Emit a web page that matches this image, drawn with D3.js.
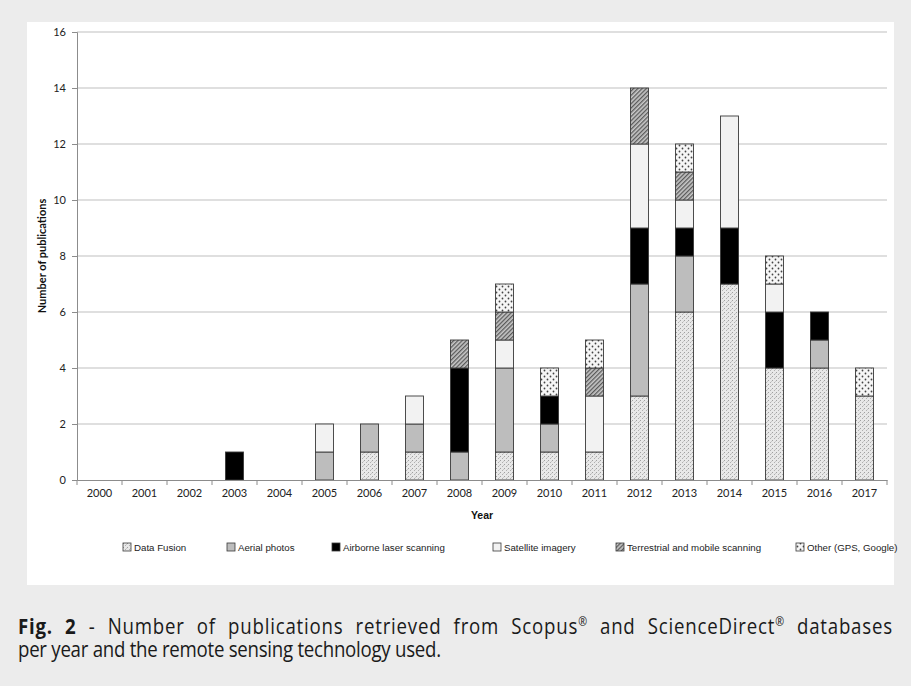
<!DOCTYPE html>
<html><head><meta charset="utf-8">
<script src="https://cdn.jsdelivr.net/npm/d3@7"></script>
<style>
html,body{margin:0;padding:0;background:#ececec;}
svg{display:block;}
</style></head>
<body>
<svg id="c" width="911" height="686"></svg>
<script>
const years = ["2000","2001","2002","2003","2004","2005","2006","2007","2008","2009","2010","2011","2012","2013","2014","2015","2016","2017"];
const seriesNames = ["Data Fusion","Aerial photos","Airborne laser scanning","Satellite imagery","Terrestrial and mobile scanning","Other (GPS, Google)"];
const dataFusion  = [0,0,0,0,0,0,1,1,0,1,1,1,3,6,7,4,4,3];
const aerial      = [0,0,0,0,0,1,1,1,1,3,1,0,4,2,0,0,1,0];
const airborne    = [0,0,0,1,0,0,0,0,3,0,1,0,2,1,2,2,1,0];
const satellite   = [0,0,0,0,0,1,0,1,0,1,0,2,3,1,4,1,0,0];
const terrestrial = [0,0,0,0,0,0,0,0,1,1,0,1,2,1,0,0,0,0];
const other       = [0,0,0,0,0,0,0,0,0,1,1,1,0,1,0,1,0,1];
const yTicks = [0,2,4,6,8,10,12,14,16];
const caption1Bold = "Fig. 2";
const caption1 = " - Number of publications retrieved from Scopus";
const caption1b = " and ScienceDirect";
const caption1c = " databases";
const caption2 = "per year and the remote sensing technology used.";

const seriesVals = [dataFusion, aerial, airborne, satellite, terrestrial, other];
const table = years.map((y,i)=>{ const o={year:y}; seriesNames.forEach((s,k)=>o[s]=seriesVals[k][i]); return o; });

const svg = d3.select("#c");
const defs = svg.append("defs");
// Data Fusion: fine speckle
const p1 = defs.append("pattern").attr("id","pDF").attr("patternUnits","userSpaceOnUse").attr("width",4).attr("height",4);
p1.append("rect").attr("width",4).attr("height",4).attr("fill","#e8e8e8");
p1.append("rect").attr("x",0).attr("y",0).attr("width",1).attr("height",1).attr("fill","#a0a0a0");
p1.append("rect").attr("x",2).attr("y",2).attr("width",1).attr("height",1).attr("fill","#b0b0b0");
p1.append("rect").attr("x",3).attr("y",1).attr("width",1).attr("height",1).attr("fill","#c8c8c8");
// Terrestrial: diagonal hatch
const p2 = defs.append("pattern").attr("id","pTR").attr("patternUnits","userSpaceOnUse").attr("width",3).attr("height",3).attr("patternTransform","rotate(45)");
p2.append("rect").attr("width",3).attr("height",3).attr("fill","#c8c8c8");
p2.append("rect").attr("width",1.3).attr("height",3).attr("fill","#5a5a5a");
// Other: bigger dots
const p3 = defs.append("pattern").attr("id","pOT").attr("patternUnits","userSpaceOnUse").attr("width",6).attr("height",6);
p3.append("rect").attr("width",6).attr("height",6).attr("fill","#f6f6f6");
p3.append("circle").attr("cx",1.5).attr("cy",1.5).attr("r",0.9).attr("fill","#444");
p3.append("circle").attr("cx",4.5).attr("cy",4.5).attr("r",0.9).attr("fill","#444");

const fills = ["url(#pDF)","#bdbdbd","#000000","#f2f2f2","url(#pTR)","url(#pOT)"];

// white panel
svg.append("rect").attr("x",27).attr("y",22).attr("width",867).attr("height",563).attr("fill","#ffffff");

const m = {l:77, r:887, t:32, b:480};
const x = d3.scaleBand().domain(years).range([m.l,m.r]).paddingInner(0.6).paddingOuter(0.3);
const y = d3.scaleLinear().domain([0,16]).range([m.b,m.t]);

// gridlines
svg.append("g").selectAll("line").data(yTicks.filter(d=>d>0)).join("line")
  .attr("x1",m.l).attr("x2",m.r).attr("y1",d=>y(d)).attr("y2",d=>y(d))
  .attr("stroke","#c0c0c0").attr("stroke-width",1.2);

// y axis
const yAxis = d3.axisLeft(y).tickValues(yTicks).tickSize(5).tickPadding(6);
const gy = svg.append("g").attr("transform",`translate(${m.l},0)`).call(yAxis);
gy.select(".domain").attr("stroke","#8c8c8c");
gy.selectAll(".tick line").attr("stroke","#8c8c8c");
gy.selectAll("text").attr("font-family","Lato, 'Open Sans', sans-serif").attr("font-size",11).attr("fill","#222");

// bars
const stack = d3.stack().keys(seriesNames)(table);
svg.append("g").selectAll("g").data(stack).join("g")
  .attr("fill",(d,i)=>fills[i])
  .selectAll("rect").data(d=>d.filter(e=>e[1]-e[0]>0)).join("rect")
  .attr("x",d=>x(d.data.year)).attr("width",x.bandwidth())
  .attr("y",d=>y(d[1])).attr("height",d=>y(d[0])-y(d[1]))
  .attr("stroke","#3a3a3a").attr("stroke-width",0.9);

// x axis
const xAxis = d3.axisBottom(x).tickSize(0).tickPadding(9);
const gx = svg.append("g").attr("transform",`translate(0,${m.b})`).call(xAxis);
gx.select(".domain").attr("stroke","#8c8c8c");
gx.selectAll("text").attr("font-family","Lato, 'Open Sans', sans-serif").attr("font-size",11).attr("fill","#222");
// category boundary ticks
const step = x.step();
svg.append("g").selectAll("line").data(d3.range(years.length+1)).join("line")
  .attr("x1",i=>m.l+i*step).attr("x2",i=>m.l+i*step).attr("y1",m.b).attr("y2",m.b+5)
  .attr("stroke","#8c8c8c");

// axis titles
svg.append("text").attr("x",(m.l+m.r)/2).attr("y",519).attr("text-anchor","middle")
  .attr("font-family","'Liberation Sans', Arial, sans-serif").attr("font-weight","bold").attr("font-size",10.5).attr("fill","#111").text("Year");
svg.append("text").attr("transform",`translate(46,${(m.t+m.b)/2}) rotate(-90)`).attr("text-anchor","middle")
  .attr("font-family","Lato, 'Open Sans', sans-serif").attr("font-weight","bold").attr("font-size",11).attr("fill","#111").text("Number of publications");

// legend
const legX = [123,227,332,493,616,796];
const lg = svg.append("g").selectAll("g").data(seriesNames).join("g")
  .attr("transform",(d,i)=>`translate(${legX[i]},551)`);
lg.append("rect").attr("x",0).attr("y",-8).attr("width",8).attr("height",8)
  .attr("fill",(d,i)=>fills[i]).attr("stroke","#3a3a3a").attr("stroke-width",0.8);
lg.append("text").attr("x",11).attr("y",0).attr("font-family","'Liberation Sans', Arial, sans-serif")
  .attr("font-size",9.7).attr("fill","#222").text(d=>d);

// caption: condensed look via horizontal scale, first line justified
const capFont = "'Open Sans', sans-serif";
const capG = svg.append("g");
const cap2 = capG.append("text").attr("x",0).attr("y",657).attr("font-family",capFont)
  .attr("font-size",21).attr("fill","#1a1a1a").attr("letter-spacing","-0.3").text(caption2);
const sx = 423 / cap2.node().getComputedTextLength();
capG.attr("transform",`translate(18,0) scale(${sx.toFixed(4)},1)`);
const cap = capG.append("text").attr("x",0).attr("y",634).attr("font-family",capFont)
  .attr("font-size",21).attr("fill","#1a1a1a").attr("letter-spacing","-0.3");
cap.append("tspan").attr("font-weight","bold").text(caption1Bold);
cap.append("tspan").text(caption1);
cap.append("tspan").attr("font-size",12).attr("dy",-8).text("®");
cap.append("tspan").attr("dy",8).text(caption1b);
cap.append("tspan").attr("font-size",12).attr("dy",-8).text("®");
cap.append("tspan").attr("dy",8).text(caption1c);
const full1 = caption1Bold+caption1+"®"+caption1b+"®"+caption1c;
const natural = cap.node().getComputedTextLength();
const nSpaces = full1.split(" ").length-1;
const nChars = full1.length;
const target = (893-18)/sx;
if (natural < target) {
  const extra = target - natural;
  cap.attr("letter-spacing", (-0.3 + 0.55*extra/nChars).toFixed(3));
  cap.attr("word-spacing", (0.45*extra/nSpaces).toFixed(2));
}
</script>
</body></html>
